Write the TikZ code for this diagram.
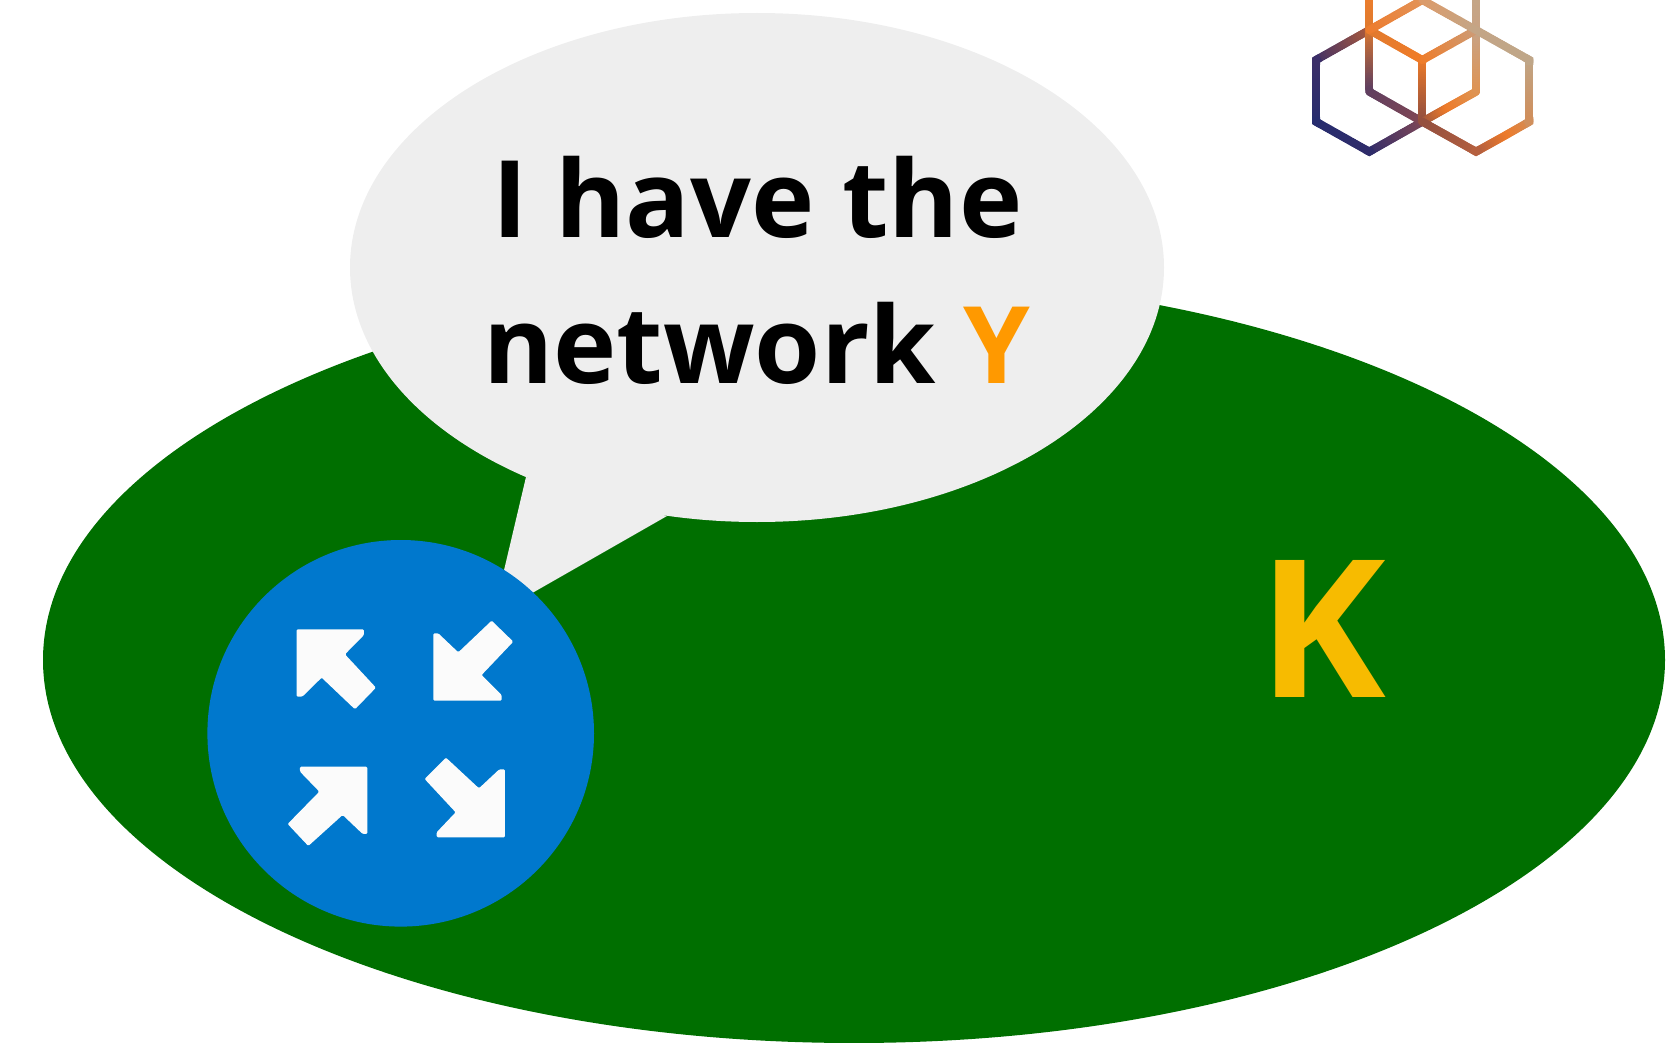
\documentclass[tikz,border=0pt]{standalone}
\usepackage{fontspec}
\setmainfont{Open Sans}
\newfontfamily\kfont{Open Sans}
\definecolor{greenfield}{HTML}{006F00}
\definecolor{bubblegrey}{HTML}{EEEEEE}
\definecolor{routerblue}{HTML}{0078CD}
\definecolor{arrowwhite}{HTML}{FBFBFB}
\definecolor{netorange}{HTML}{FF9900}
\definecolor{asyellow}{HTML}{F7BB00}
\newcommand{\gradedge}[4]{%
  \foreach \k in {0,...,23}{%
    \pgfmathsetmacro{\tA}{\k/24}%
    \pgfmathsetmacro{\tB}{(\k+1)/24}%
    \pgfmathtruncatemacro{\pc}{100-100*(\k+0.5)/24}%
    \definecolor{ca}{HTML}{#2}\definecolor{cb}{HTML}{#4}%
    \draw[logoline,color=ca!\pc!cb] ($#1!\tA!#3$) -- ($#1!\tB!#3$);
  }%
}
\newcommand{\logocorner}[4]{%
  \definecolor{cc}{HTML}{#4}%
  \draw[line width=8pt,line join=miter,miter limit=10,color=cc] ($#2!0.08!#1$) -- #2 -- ($#2!0.08!#3$);
}
\usetikzlibrary{calc}
\tikzset{
  logoline/.style={line width=8pt,line cap=round},
  arrowglyph/.style={fill=arrowwhite,draw=none,rounded corners=1.2pt},
  bigtext/.style={font=\fontsize{107}{107}\selectfont\bfseries,anchor=base,inner sep=0pt,text=black}
}
\begin{document}
\begin{tikzpicture}[x=1pt,y=-1pt]
\useasboundingbox (0,0) rectangle (1674,1043);
\clip (0,0) rectangle (1674,1043);
\fill[greenfield] (854,660) ellipse [x radius=811,y radius=383];
\fill[bubblegrey] (757,267.5) ellipse [x radius=407,y radius=254.5];
\fill[bubblegrey] (526,477) -- (667,516) -- (520,600) -- (497,600) -- cycle;
\node[bigtext] (line1) at (757.5,237.5) {I have the};
\node[bigtext] (line2) at (757,383.5) {network \textcolor{netorange}{Y}};
\node[anchor=base,inner sep=0pt,text=asyellow,font=\kfont\fontsize{192}{192}\selectfont\bfseries] (as) at (1322,697) {K};
\fill[routerblue] (400.7,733.3) circle [radius=193.3];
\begin{scope}[shift={(190,520)},x=0.3333pt,y=-0.3333pt]
\fill[arrowglyph] (320,328) -- (522,328) -- (522,345) -- (465,403) -- (558,503) -- (495,568) -- (395,473) -- (337,530) -- (320,530) -- cycle;
\fill[arrowglyph] (730,542) -- (730,340) -- (745,340) -- (805,397) -- (905,302) -- (970,365) -- (875,465) -- (935,525) -- (935,542) -- cycle;
\fill[arrowglyph] (532,740) -- (330,740) -- (330,755) -- (388,815) -- (293,912) -- (355,978) -- (458,885) -- (518,942) -- (532,942) -- cycle;
\fill[arrowglyph] (945,952) -- (740,952) -- (740,937) -- (797,877) -- (704,777) -- (768,713) -- (867,805) -- (928,748) -- (945,748) -- cycle;
\end{scope}
% logo
\coordinate (A) at (1316,60);
\coordinate (B) at (1316,121.7);
\coordinate (C) at (1369.3,151.7);
\coordinate (D) at (1422.3,121.7);
\coordinate (E) at (1422.3,60);
\coordinate (F) at (1369.3,30);
\coordinate (G) at (1476,151.7);
\coordinate (H) at (1529.3,121.7);
\coordinate (I) at (1529.3,60);
\coordinate (J) at (1476,30);
\coordinate (K) at (1422.3,0);
\coordinate (L) at (1369.3,91.7);
\coordinate (M) at (1476,91.7);
\coordinate (P) at (1369.3,-4);
\coordinate (Q) at (1476,-4);
\coordinate (R) at (1449,106.7);
\coordinate (S) at (1503,136.7);
\gradedge{(A)}{3B2E68}{(F)}{A5583F}
\gradedge{(B)}{262C6E}{(A)}{3B2E68}
\gradedge{(B)}{262C6E}{(C)}{2F2C6A}
\gradedge{(C)}{2F2C6A}{(D)}{7A4658}
\gradedge{(F)}{E07A2E}{(L)}{5F3F60}
\gradedge{(L)}{5F3F60}{(D)}{7F4655}
\gradedge{(P)}{EE7E2C}{(F)}{E07A2E}
\gradedge{(F)}{E07A2E}{(E)}{F07C28}
\gradedge{(E)}{F07C28}{(D)}{94503F}
\gradedge{(D)}{94503F}{(R)}{EE7B2A}
\gradedge{(R)}{EE7B2A}{(M)}{E0924F}
\gradedge{(M)}{E0924F}{(J)}{C9A283}
\gradedge{(J)}{C9A283}{(Q)}{C4A586}
\gradedge{(E)}{F07C28}{(J)}{CF9A72}
\gradedge{(F)}{EE7B2C}{(K)}{E39256}
\gradedge{(K)}{DE9A68}{(J)}{C4A586}
\gradedge{(J)}{C4A586}{(I)}{BFA688}
\gradedge{(I)}{BFA688}{(H)}{D08F5C}
\gradedge{(H)}{D08F5C}{(S)}{EE7B2A}
\gradedge{(S)}{EE7B2A}{(G)}{B5603F}
\gradedge{(G)}{B5603F}{(D)}{94503F}
\logocorner{(F)}{(A)}{(B)}{3B2E68}
\logocorner{(A)}{(B)}{(C)}{262C6E}
\logocorner{(B)}{(C)}{(D)}{2F2C6A}
\logocorner{(D)}{(G)}{(H)}{B5603F}
\logocorner{(G)}{(H)}{(I)}{D08F5C}
\logocorner{(H)}{(I)}{(J)}{BFA688}
\end{tikzpicture}
\end{document}
